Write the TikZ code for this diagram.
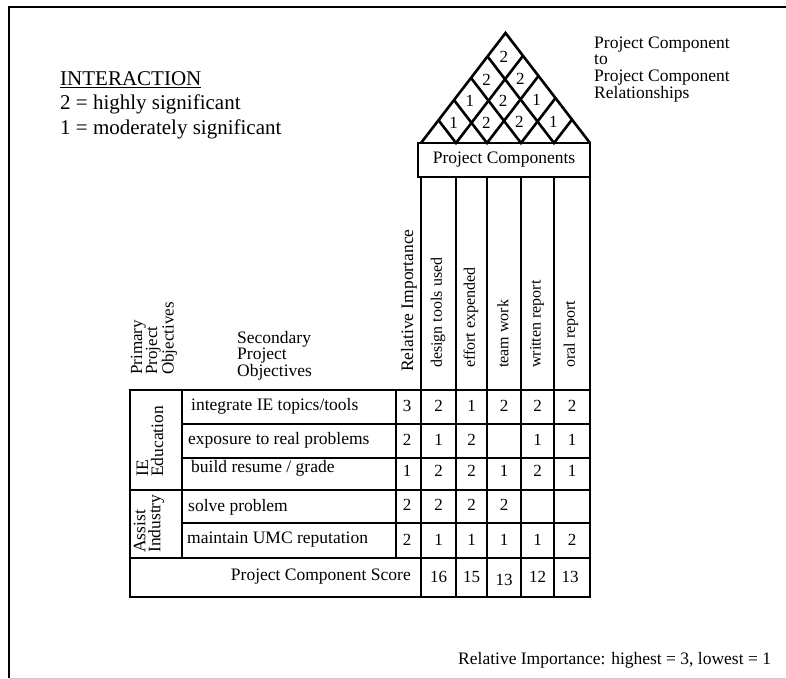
\documentclass[tikz,border=0pt]{standalone}
\usepackage{fontspec}
\setmainfont{Liberation Serif}
\usetikzlibrary{positioning}

\tikzset{
  heavy/.style={line width=2.6pt},
  light/.style={line width=1.4pt},
  txt/.style={font=\fontsize{17.5}{18}\selectfont, inner sep=0pt},
  num/.style={font=\fontsize{17}{18}\selectfont, inner sep=0pt},
  vtxt/.style={font=\fontsize{16}{16}\selectfont, inner sep=0pt, rotate=90, anchor=west},
  legend/.style={font=\fontsize{21}{24}\selectfont, inner sep=0pt, anchor=west},
}

\begin{document}
\begin{tikzpicture}[x=1pt, y=-1pt]
\useasboundingbox (0,0) rectangle (786,679);
% page frame
\draw[line width=2pt] (786,7) -- (9,7) -- (9,678);
\draw[gray!40, line width=1pt] (9,678) -- (786,678);

% legend
\node[legend] (inter) at (60,80) {\underline{INTERACTION}};
\node[legend] (two) at (60,104) {2 = highly significant};
\node[legend] (one) at (60,129) {1 = moderately significant};

\node[txt, anchor=west] (rel1) at (594,45) {Project Component};
\node[txt, anchor=west] (rel2) at (594,60) {to};
\node[txt, anchor=west] (rel3) at (594,78) {Project Component};
\node[txt, anchor=west] (rel4) at (594,94.5) {Relationships};

% roof
\draw[heavy, line join=miter] (421,143) -- (505.5,33) -- (590,143);
\foreach \b in {456,487,521,554}{
  \draw[heavy] ({(\b+421)/2},{143-1.302*(\b-421)/2}) -- (\b,143) -- ({(\b+590)/2},{143-1.302*(590-\b)/2});
}
\foreach \i/\j/\v in {0/1/1,1/2/2,2/3/2,3/4/1,0/2/1,1/3/2,2/4/1,0/3/2,1/4/2,0/4/2}{
  \pgfmathsetmacro\ci{{438.5,471.5,504,537.5,572}[\i]}
  \pgfmathsetmacro\cj{{438.5,471.5,504,537.5,572}[\j]}
  \node[num] (r\i\j) at ({(\ci+\cj)/2-1.5},{143-1.302*(\cj-\ci)/2+1}) {\v};
}
\draw[heavy] (418,143) rectangle (590,177);
\node[txt] (pc) at (504,160) {Project Components};

% grid
\foreach \x in {456,487,521,554} \draw[light] (\x,177) -- (\x,597);
\draw[heavy] (421,177) -- (421,597);
\draw[heavy] (590,177) -- (590,597);
\draw[heavy] (130,390) rectangle (590,597);
\draw[heavy] (130,490) -- (590,490);
\draw[heavy] (130,558) -- (590,558);
\foreach \y in {424,458,523} \draw[light] (182,\y) -- (590,\y);
\draw[light] (182,390) -- (182,558);
\draw[light] (396,390) -- (396,558);

% headers
\node[vtxt, font=\fontsize{17.5}{18}\selectfont] (rimp) at (409,372) {Relative Importance};
\foreach [count=\i] \t/\x in {design tools used/438, effort expended/471, team work/503, written report/537, oral report/571}
  \node[vtxt] (h\i) at (\x,368) {\t};
\node[vtxt, align=left, font=\fontsize{17}{15}\selectfont] (prim) at (154,375) {Primary\\Project\\Objectives};
\node[txt, align=left, anchor=north west, font=\fontsize{17.5}{15}\selectfont] (sec) at (237,331) {Secondary\\Project\\Objectives};

% objectives
\node[vtxt, align=left, font=\fontsize{17.5}{15}\selectfont] (ie) at (150,477) {IE\\Education};
\node[vtxt, align=left, font=\fontsize{17.5}{15}\selectfont] (ai) at (149,553) {Assist\\Industry};
\node[txt, anchor=west] (s1) at (191,406) {integrate IE topics/tools};
\node[txt, anchor=west] (s2) at (188,440) {exposure to real problems};
\node[txt, anchor=west] (s3) at (191,468) {build resume / grade};
\node[txt, anchor=west] (s4) at (188,507) {solve problem};
\node[txt, anchor=west] (s5) at (187,540) {maintain UMC reputation};

% values
\foreach [count=\r] \y/\ri/\vals in {406/3/{2,1,2,2,2}, 440/2/{1,2,{},1,1}, 471/1/{2,2,1,2,1}, 505/2/{2,2,2,{},{}}, 540/2/{1,1,1,1,2}}{
  \node[num] (ri\r) at (407,\y) {\ri};
  \foreach [count=\c] \v in \vals {
    \pgfmathsetmacro\xx{{438.5,471.5,504,537.5,572}[\c-1]}
    \node[num] (v\r\c) at (\xx,\y) {\v};
  }
}
\node[txt, anchor=east] (score) at (411,577) {Project Component Score};
\foreach [count=\c] \v/\x/\y in {16/438.5/577, 15/471.5/577, 13/504/580, 12/537.5/577, 13/570/577}
  \node[num] (t\c) at (\x,\y) {\v};

\node[txt, anchor=west] (note) at (458,660) {Relative Importance: highest = 3, lowest = 1};
\end{tikzpicture}
\end{document}
